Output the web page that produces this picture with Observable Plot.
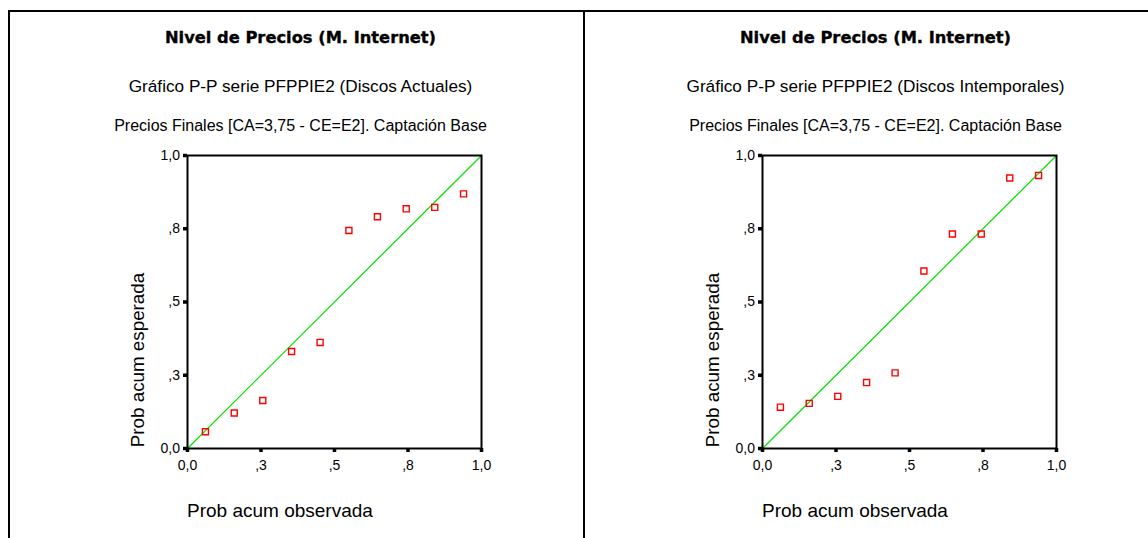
<!DOCTYPE html>
<html>
<head>
<meta charset="utf-8">
<script src="https://cdn.jsdelivr.net/npm/d3@7"></script>
<script src="https://cdn.jsdelivr.net/npm/@observablehq/plot@0.6"></script>
<style>
  html, body { margin: 0; padding: 0; background: #fff; }
  #page { position: relative; width: 1148px; height: 538px; overflow: hidden; background: #fff;
          font-family: "Liberation Sans", Arial, sans-serif; color: #000; }
  .line { position: absolute; background: #000; }
  .txt { position: absolute; white-space: nowrap; line-height: 1; }
  .title { font-family: "DejaVu Sans", sans-serif; font-weight: bold; font-size: 16.3px; text-align: center; width: 575px;
           -webkit-text-stroke: 0.35px #000; }
  .sub { font-size: 17.2px; text-align: center; width: 575px; }
  .sub2 { font-size: 16px; text-align: center; width: 575px; }
  .xlab { font-size: 19px; }
  .ylab { font-size: 18.8px; transform: translate(-50%, -50%) rotate(-90deg); }
  .plotbox { position: absolute; }
</style>
</head>
<body>
<div id="page"></div>
<script>
// ---- data ----
const panelTitle = "Nivel de Precios (M. Internet)";
const panelSubtitles = ["Gráfico P-P serie PFPPIE2 (Discos Actuales)", "Gráfico P-P serie PFPPIE2 (Discos Intemporales)"];
const panelSubtitle2 = "Precios Finales [CA=3,75 - CE=E2]. Captación Base";
const xLabel = "Prob acum observada";
const yLabel = "Prob acum esperada";

const tickValues = [0, 0.25, 0.5, 0.75, 1];
const tickLabels = ["0,0", ",3", ",5", ",8", "1,0"];

const actualesObs = [0.061, 0.159, 0.256, 0.354, 0.451, 0.549, 0.646, 0.744, 0.841, 0.939];
const actualesEsp = [0.057, 0.121, 0.164, 0.331, 0.362, 0.744, 0.791, 0.818, 0.823, 0.869];
const intempObs   = [0.061, 0.159, 0.256, 0.354, 0.451, 0.549, 0.646, 0.744, 0.841, 0.939];
const intempEsp   = [0.141, 0.154, 0.178, 0.225, 0.258, 0.606, 0.732, 0.732, 0.923, 0.932];

const refX = [0, 1];
const refY = [0, 1];

// ---- layout ----
const page = document.getElementById("page");
function addLine(l, t, w, h) {
  const d = document.createElement("div");
  d.className = "line";
  Object.assign(d.style, {left: l + "px", top: t + "px", width: w + "px", height: h + "px"});
  page.appendChild(d);
}
function addText(cls, text, l, t) {
  const d = document.createElement("div");
  d.className = "txt " + cls;
  d.textContent = text;
  d.style.left = l + "px";
  d.style.top = t + "px";
  page.appendChild(d);
  return d;
}

// table borders
addLine(8, 10, 1140, 2);
addLine(8, 10, 2, 528);
addLine(583, 10, 2, 528);

const panels = [
  {obs: actualesObs, esp: actualesEsp, sub: panelSubtitles[0]},
  {obs: intempObs, esp: intempEsp, sub: panelSubtitles[1]}
];

const PW = 575;
const plotW = 294, plotH = 293;
const mL = 60, mT = 10, mR = 20, mB = 40;

panels.forEach((p, i) => {
  const off = i * PW;
  addText("title", panelTitle, 13 + off, 30);
  addText("sub", p.sub, 13 + off, 78);
  addText("sub2", panelSubtitle2, 13 + off, 118);
  addText("xlab", xLabel, 187 + off, 501);
  addText("ylab", yLabel, 138 + off, 360);

  const pts = p.obs.map((v, k) => ({x: v, y: p.esp[k]}));
  const ref = refX.map((v, k) => ({x: v, y: refY[k]}));
  const fmt = d => tickLabels[tickValues.indexOf(d)];

  const chart = Plot.plot({
    width: mL + plotW + mR,
    height: mT + plotH + mB,
    marginLeft: mL, marginTop: mT, marginRight: mR, marginBottom: mB,
    style: {fontFamily: '"Liberation Sans", Arial, sans-serif', fontSize: "14px", color: "#000", background: "transparent"},
    x: {domain: [0, 1]},
    y: {domain: [0, 1]},
    marks: [
      Plot.line(ref, {x: "x", y: "y", stroke: "#00e000", strokeWidth: 1.2}),
      Plot.dot(pts, {x: "x", y: "y", symbol: "square", r: 3.4, stroke: "#ff0000", strokeWidth: 1.4, fill: "none"}),
      Plot.frame({stroke: "#000", strokeWidth: 2}),
      Plot.axisX({ticks: tickValues, tickFormat: fmt, tickSize: 4, tickPadding: 7.5, strokeWidth: 3.5, label: null, fill: "#000"}),
      Plot.axisY({ticks: tickValues, tickFormat: fmt, tickSize: 4, tickPadding: 3.5, strokeWidth: 3.5, label: null, fill: "#000"})
    ]
  });
  const box = document.createElement("div");
  box.className = "plotbox";
  box.style.left = (187 + off - mL) + "px";
  box.style.top = (155 - mT) + "px";
  box.appendChild(chart);
  page.appendChild(box);
});
</script>
</body>
</html>
